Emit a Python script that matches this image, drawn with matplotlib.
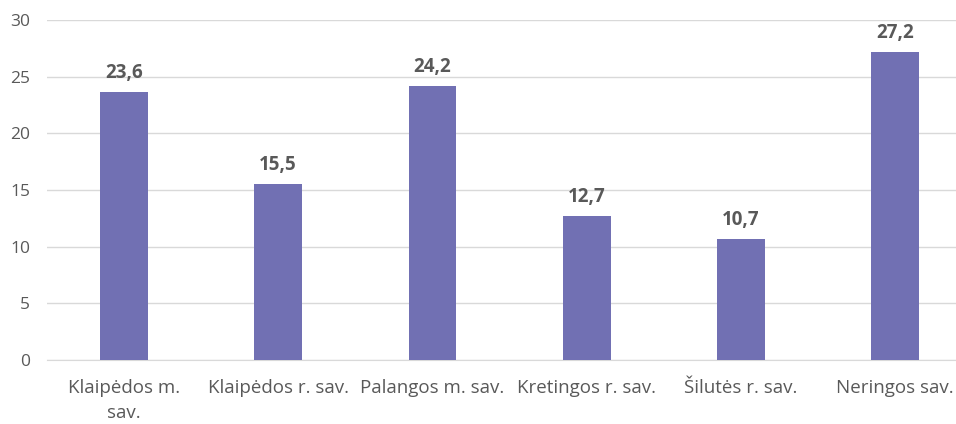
import matplotlib
matplotlib.use("Agg")
import matplotlib.pyplot as plt
import numpy as np

categories = ["Klaipėdos m.\nsav.", "Klaipėdos r. sav.", "Palangos m. sav.",
              "Kretingos r. sav.", "Šilutės r. sav.", "Neringos sav."]
values = [23.6, 15.5, 24.2, 12.7, 10.7, 27.2]
yticks = [0, 5, 10, 15, 20, 25, 30]

plt.rcParams['font.family'] = ['Open Sans', 'DejaVu Sans']

fig = plt.figure(figsize=(9.56, 4.24), dpi=100)
ax = fig.add_axes([0.049, 0.151, 0.968, 0.802])

x = np.arange(len(categories))
bars = ax.bar(x, values, width=0.31, color="#7170B3", zorder=3)

for xi, v in zip(x, values):
    ax.annotate(f"{v:.1f}".replace(".", ","), xy=(xi, v), xytext=(0, 6.5),
                textcoords="offset points", ha="center", va="bottom",
                fontsize=13.5, fontweight="bold", color="#595959")

ax.set_xlim(-0.5, len(categories) - 0.5)
ax.set_ylim(0, 30)
ax.set_yticks(yticks)
ax.set_yticklabels([str(t) for t in yticks])
ax.set_xticks(x)
ax.set_xticklabels(categories, linespacing=1.45)
ax.grid(axis="y", color="#D9D9D9", linewidth=1, zorder=0)
for s in ["top", "right", "left"]:
    ax.spines[s].set_visible(False)
ax.spines["bottom"].set_color("#D9D9D9")
ax.tick_params(axis="both", length=0, colors="#595959")
ax.tick_params(axis="x", pad=14, labelsize=13.5)
ax.tick_params(axis="y", pad=12, labelsize=12.5)

fig.savefig("out.png", dpi=100)
